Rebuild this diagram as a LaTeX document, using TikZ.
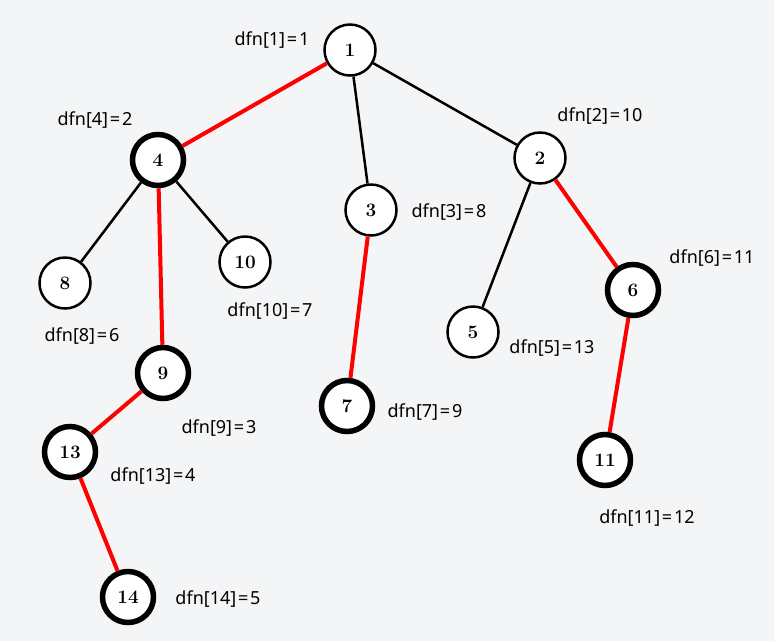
\documentclass[tikz,border=0pt]{standalone}
\usepackage{fontspec}
\newfontfamily\lblfont{Noto Sans}
\definecolor{bgc}{RGB}{244,245,247}
\newcommand\eqsp{\kern1.8pt=\kern1.8pt}
\begin{document}
\begin{tikzpicture}[x=1pt,y=-1pt,
  vbase/.style={circle,draw=black,fill=white,minimum size=51pt,inner sep=0pt,
    font=\fontsize{19}{19}\selectfont\bfseries},
  vthin/.style={vbase,line width=2.5pt},
  vthick/.style={vbase,line width=5.5pt},
  lbl/.style={font=\lblfont\fontsize{18}{20}\selectfont,inner sep=0pt},
  bedge/.style={draw=black,line width=2.5pt},
  redge/.style={draw=red,line width=4pt}]
\fill[bgc] (0,0) rectangle (774,641);
\useasboundingbox (0,0) rectangle (774,641);
% nodes
\node[vthin]  (n1)  at (350,50)  {1};
\node[vthick] (n4)  at (158,160) {4};
\node[vthin]  (n3)  at (371,210) {3};
\node[vthin]  (n2)  at (540,158) {2};
\node[vthin]  (n8)  at (65,283)  {8};
\node[vthin]  (n10) at (245,262) {10};
\node[vthick] (n9)  at (163,373) {9};
\node[vthick] (n13) at (70,452)  {13};
\node[vthick] (n14) at (128,597) {14};
\node[vthick] (n7)  at (347,406) {7};
\node[vthin]  (n5)  at (473,332) {5};
\node[vthick] (n6)  at (633,290) {6};
\node[vthick] (n11) at (605,460) {11};
% edges
\draw[bedge] (n1) -- (n3);
\draw[bedge] (n1) -- (n2);
\draw[bedge] (n4) -- (n8);
\draw[bedge] (n4) -- (n10);
\draw[bedge] (n2) -- (n5);
\draw[redge] (n1) -- (n4);
\draw[redge] (n4) -- (n9);
\draw[redge] (n9) -- (n13);
\draw[redge] (n13) -- (n14);
\draw[redge] (n3) -- (n7);
\draw[redge] (n2) -- (n6);
\draw[redge] (n6) -- (n11);
% labels
\node[lbl] (l1)  at (272,40)  {dfn[1]\eqsp1};
\node[lbl] (l4)  at (95,120)  {dfn[4]\eqsp2};
\node[lbl] (l2)  at (600,116) {dfn[2]\eqsp10};
\node[lbl] (l3)  at (449,212) {dfn[3]\eqsp8};
\node[lbl] (l6)  at (712,258) {dfn[6]\eqsp11};
\node[lbl] (l10) at (270,311) {dfn[10]\eqsp7};
\node[lbl] (l8)  at (82,336)  {dfn[8]\eqsp6};
\node[lbl] (l5)  at (552,348) {dfn[5]\eqsp13};
\node[lbl] (l7)  at (425,412) {dfn[7]\eqsp9};
\node[lbl] (l9)  at (219,428) {dfn[9]\eqsp3};
\node[lbl] (l13) at (153,476) {dfn[13]\eqsp4};
\node[lbl] (l11) at (647,518) {dfn[11]\eqsp12};
\node[lbl] (l14) at (218,599) {dfn[14]\eqsp5};
\end{tikzpicture}
\end{document}
